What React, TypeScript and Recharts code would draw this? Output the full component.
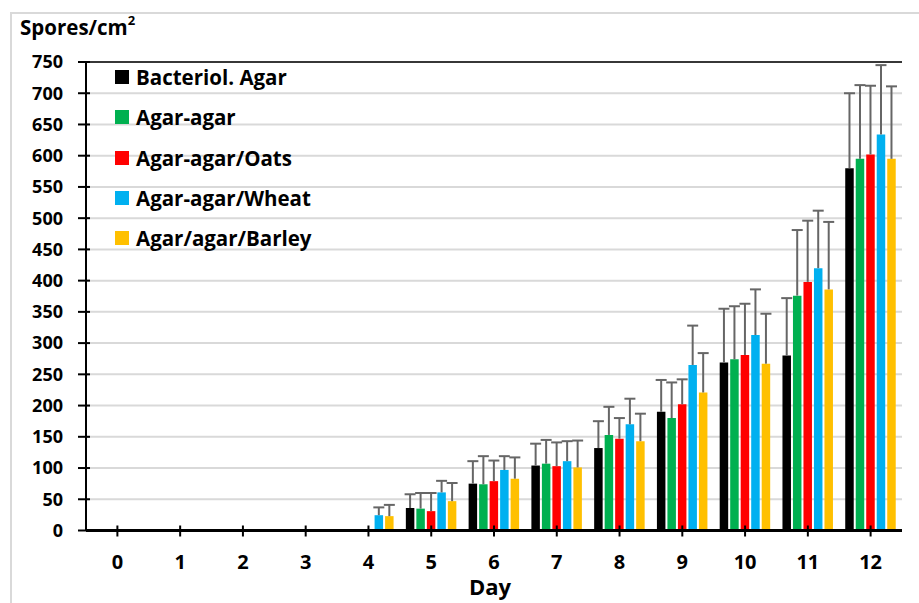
import React from 'react';
import {
    BarChart, Bar, ErrorBar,
    XAxis, YAxis,
    CartesianGrid, Legend, ReferenceLine,
} from 'recharts';

// values (spores/cm2 per day), error = upper SD
const days = ['0', '1', '2', '3', '4', '5', '6', '7', '8', '9', '10', '11', '12'];
const yTicks = [0, 50, 100, 150, 200, 250, 300, 350, 400, 450, 500, 550, 600, 650, 700, 750];

const bacteriol = [0, 0, 0, 0, 0, 36, 75, 104, 132, 190, 269, 280, 580];
const bacteriolErr = [0, 0, 0, 0, 0, 22, 36, 35, 43, 51, 86, 92, 120];
const agar = [0, 0, 0, 0, 0, 35, 74, 107, 153, 180, 274, 376, 595];
const agarErr = [0, 0, 0, 0, 0, 25, 45, 38, 45, 57, 85, 105, 118];
const oats = [0, 0, 0, 0, 0, 31, 79, 103, 147, 202, 281, 398, 602];
const oatsErr = [0, 0, 0, 0, 0, 29, 33, 38, 33, 40, 82, 98, 110];
const wheat = [0, 0, 0, 0, 24.5, 61, 97, 111, 170, 265, 313, 420, 634];
const wheatErr = [0, 0, 0, 0, 12.5, 18.5, 22, 32, 41, 63, 73, 92, 111];
const barley = [0, 0, 0, 0, 23, 47, 83, 101, 143, 221, 267, 386, 595];
const barleyErr = [0, 0, 0, 0, 18, 29, 34, 43, 44, 63, 80, 108, 116];

const series = [
    { key: 'bact', name: 'Bacteriol. Agar', color: '#000000', values: bacteriol, errors: bacteriolErr },
    { key: 'agar', name: 'Agar-agar', color: '#00B050', values: agar, errors: agarErr },
    { key: 'oats', name: 'Agar-agar/Oats', color: '#FF0000', values: oats, errors: oatsErr },
    { key: 'wheat', name: 'Agar-agar/Wheat', color: '#00B0F0', values: wheat, errors: wheatErr },
    { key: 'barley', name: 'Agar/agar/Barley', color: '#FFC000', values: barley, errors: barleyErr },
];

const data = days.map((day, i) => {
    const row: Record<string, any> = { day };
    series.forEach((s) => {
        row[s.key] = s.values[i];
        row[s.key + 'Err'] = s.errors[i] > 0 ? [0, s.errors[i]] : null;
    });
    return row;
});

const FONT = '"Open Sans", sans-serif';

// legend keeps the series order (recharts would sort it by name)
function renderLegend() {
    return (
        <div style={{ fontFamily: FONT }}>
            {series.map((s) => (
                <div key={s.key} style={{ display: 'flex', alignItems: 'center', height: 40.3 }}>
                    <span style={{ width: 14, height: 14, background: s.color, marginRight: 7, display: 'inline-block' }} />
                    <span style={{ fontSize: 20.5, fontWeight: 700, color: '#000' }}>{s.name}</span>
                </div>
            ))}
        </div>
    );
}

export default function App() {
    return (
        <div style={{ position: 'fixed', left: 0, top: 0, width: 919, height: 603, overflow: 'hidden', background: '#fff' }}>
            <style>{'.recharts-errorBar line:nth-of-type(3){display:none}'}</style>
            <div style={{ position: 'absolute', left: 10, top: 12, width: 915, height: 600, border: '2px solid #d9d9d9' }} />
            <div style={{ position: 'absolute', left: 20, top: 13, fontFamily: FONT, fontWeight: 700, fontSize: 20.5, color: '#000' }}>
                Spores/cm<sup style={{ fontSize: 13, verticalAlign: 'top', position: 'relative', top: -2 }}>2</sup>
            </div>
            <div style={{ position: 'absolute', left: 0, top: 0 }}>
                <BarChart
                    width={919}
                    height={603}
                    data={data}
                    margin={{ top: 62, right: 17, bottom: 0, left: 0 }}
                    barSize={8.5}
                    barGap={2}
                    style={{ fontFamily: FONT }}
                >
                    <CartesianGrid vertical={false} stroke="#d9d9d9" strokeWidth={2} />
                    {series.map((s) => (
                        <Bar key={s.key} dataKey={s.key} name={s.name} fill={s.color} isAnimationActive={false}>
                            <ErrorBar dataKey={s.key + 'Err'} direction="y" width={5.5} stroke="#666" strokeWidth={2} isAnimationActive={false} />
                        </Bar>
                    ))}
                    <ReferenceLine y={750} stroke="#000" strokeWidth={1.5} />
                    <XAxis
                        dataKey="day"
                        height={72.5}
                        interval={0}
                        axisLine={{ stroke: '#000', strokeWidth: 3 }}
                        tickLine={{ stroke: '#000', strokeWidth: 2, transform: 'translate(0,-5)' }}
                        tickSize={11}
                        tickMargin={13}
                        tick={{ fill: '#000', fontSize: 20, fontWeight: 700 }}
                        label={{ value: 'Day', position: 'insideBottom', offset: 8, dx: -4, fill: '#000', fontSize: 22, fontWeight: 700 }}
                    />
                    <YAxis
                        width={86}
                        domain={[0, 750]}
                        ticks={yTicks}
                        interval={0}
                        axisLine={{ stroke: '#000', strokeWidth: 2 }}
                        tickLine={{ stroke: '#000', strokeWidth: 2, transform: 'translate(4,0)' }}
                        tickSize={12}
                        tickMargin={11}
                        tick={{ fill: '#000', fontSize: 18, fontWeight: 700 }}
                    />
                    <YAxis
                        yAxisId="frame"
                        orientation="right"
                        width={0}
                        tick={false}
                        tickLine={false}
                        axisLine={{ stroke: '#000', strokeWidth: 1.5 }}
                    />
                    <Legend
                        layout="vertical"
                        align="center"
                        verticalAlign="middle"
                        content={renderLegend}
                        wrapperStyle={{ left: 115, top: 57, width: 'auto' }}
                    />
                </BarChart>
            </div>
        </div>
    );
}
